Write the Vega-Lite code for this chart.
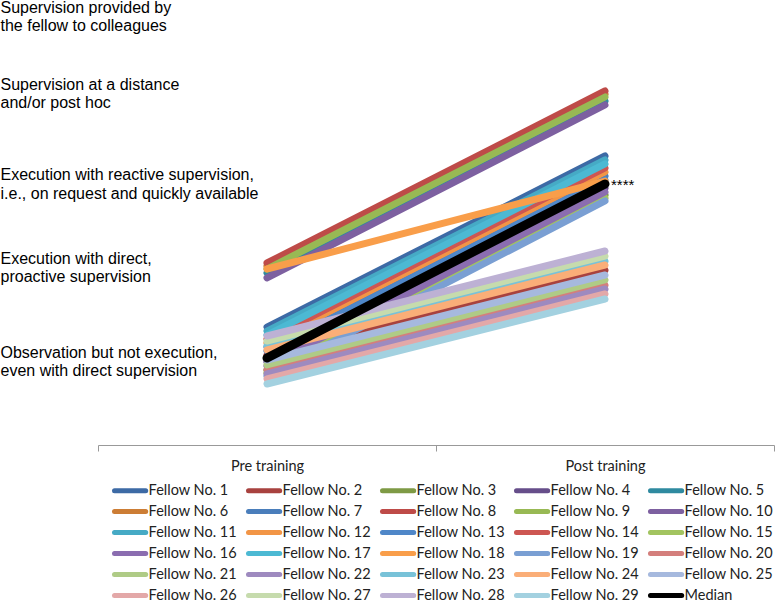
{
  "$schema": "https://vega.github.io/schema/vega-lite/v6.json",
  "width": 676,
  "height": 444,
  "autosize": {"type": "none"},
  "padding": {"left": 98, "top": 1, "right": 4, "bottom": 155},
  "background": "white",
  "config": {"view": {"stroke": null}},
  "datasets": {
    "fellows": [
      {"fellow": "Fellow No. 1", "stage": "Pre training", "level": 1.356}, {"fellow": "Fellow No. 1", "stage": "Post training", "level": 3.322},
      {"fellow": "Fellow No. 2", "stage": "Pre training", "level": 1.034}, {"fellow": "Fellow No. 2", "stage": "Post training", "level": 2.011},
      {"fellow": "Fellow No. 3", "stage": "Pre training", "level": 0.862}, {"fellow": "Fellow No. 3", "stage": "Post training", "level": 2.874},
      {"fellow": "Fellow No. 4", "stage": "Pre training", "level": 0.954}, {"fellow": "Fellow No. 4", "stage": "Post training", "level": 2.954},
      {"fellow": "Fellow No. 5", "stage": "Pre training", "level": 1.977}, {"fellow": "Fellow No. 5", "stage": "Post training", "level": 3.954},
      {"fellow": "Fellow No. 6", "stage": "Pre training", "level": 2.057}, {"fellow": "Fellow No. 6", "stage": "Post training", "level": 4.034},
      {"fellow": "Fellow No. 7", "stage": "Pre training", "level": 1.126}, {"fellow": "Fellow No. 7", "stage": "Post training", "level": 3.092},
      {"fellow": "Fellow No. 8", "stage": "Pre training", "level": 2.092}, {"fellow": "Fellow No. 8", "stage": "Post training", "level": 4.069},
      {"fellow": "Fellow No. 9", "stage": "Pre training", "level": 2.023}, {"fellow": "Fellow No. 9", "stage": "Post training", "level": 4.0},
      {"fellow": "Fellow No. 10", "stage": "Pre training", "level": 1.92}, {"fellow": "Fellow No. 10", "stage": "Post training", "level": 3.908},
      {"fellow": "Fellow No. 11", "stage": "Pre training", "level": 1.31}, {"fellow": "Fellow No. 11", "stage": "Post training", "level": 3.276},
      {"fellow": "Fellow No. 12", "stage": "Pre training", "level": 1.172}, {"fellow": "Fellow No. 12", "stage": "Post training", "level": 3.138},
      {"fellow": "Fellow No. 13", "stage": "Pre training", "level": 1.08}, {"fellow": "Fellow No. 13", "stage": "Post training", "level": 3.046},
      {"fellow": "Fellow No. 14", "stage": "Pre training", "level": 1.218}, {"fellow": "Fellow No. 14", "stage": "Post training", "level": 3.184},
      {"fellow": "Fellow No. 15", "stage": "Pre training", "level": 0.828}, {"fellow": "Fellow No. 15", "stage": "Post training", "level": 2.839},
      {"fellow": "Fellow No. 16", "stage": "Pre training", "level": 0.908}, {"fellow": "Fellow No. 16", "stage": "Post training", "level": 2.908},
      {"fellow": "Fellow No. 17", "stage": "Pre training", "level": 1.264}, {"fellow": "Fellow No. 17", "stage": "Post training", "level": 3.23},
      {"fellow": "Fellow No. 18", "stage": "Pre training", "level": 2.023}, {"fellow": "Fellow No. 18", "stage": "Post training", "level": 3.034},
      {"fellow": "Fellow No. 19", "stage": "Pre training", "level": 0.793}, {"fellow": "Fellow No. 19", "stage": "Post training", "level": 2.805},
      {"fellow": "Fellow No. 20", "stage": "Pre training", "level": 0.862}, {"fellow": "Fellow No. 20", "stage": "Post training", "level": 1.839},
      {"fellow": "Fellow No. 21", "stage": "Pre training", "level": 0.92}, {"fellow": "Fellow No. 21", "stage": "Post training", "level": 1.897},
      {"fellow": "Fellow No. 22", "stage": "Pre training", "level": 0.816}, {"fellow": "Fellow No. 22", "stage": "Post training", "level": 1.793},
      {"fellow": "Fellow No. 23", "stage": "Pre training", "level": 1.138}, {"fellow": "Fellow No. 23", "stage": "Post training", "level": 2.115},
      {"fellow": "Fellow No. 24", "stage": "Pre training", "level": 1.092}, {"fellow": "Fellow No. 24", "stage": "Post training", "level": 2.069},
      {"fellow": "Fellow No. 25", "stage": "Pre training", "level": 0.977}, {"fellow": "Fellow No. 25", "stage": "Post training", "level": 1.954},
      {"fellow": "Fellow No. 26", "stage": "Pre training", "level": 0.759}, {"fellow": "Fellow No. 26", "stage": "Post training", "level": 1.736},
      {"fellow": "Fellow No. 27", "stage": "Pre training", "level": 1.195}, {"fellow": "Fellow No. 27", "stage": "Post training", "level": 2.172},
      {"fellow": "Fellow No. 28", "stage": "Pre training", "level": 1.253}, {"fellow": "Fellow No. 28", "stage": "Post training", "level": 2.23},
      {"fellow": "Fellow No. 29", "stage": "Pre training", "level": 0.701}, {"fellow": "Fellow No. 29", "stage": "Post training", "level": 1.678},
      {"fellow": "Median", "stage": "Pre training", "level": 1.0}, {"fellow": "Median", "stage": "Post training", "level": 3.0}
    ],
    "annot": [{"stage": "Post training", "level": 3.0, "label": "****"}]
  },
  "layer": [
    {
      "data": {"name": "fellows"},
      "mark": {"type": "line", "strokeCap": "round", "strokeJoin": "round"},
      "encoding": {
        "x": {
          "field": "stage", "type": "nominal",
          "scale": {"domain": ["Pre training", "Post training"], "paddingInner": 0, "paddingOuter": 0},
          "axis": {
            "title": null, "labelAngle": 0, "tickBand": "extent", "ticks": true, "tickSize": 6,
            "tickColor": "#999999", "domainColor": "#999999", "grid": false,
            "labelFont": "Lato, sans-serif",
            "labelFontSize": 14.5, "labelColor": "#222222", "labelPadding": 8
          }
        },
        "y": {
          "field": "level", "type": "quantitative",
          "scale": {"domain": [0, 5.1034], "nice": false, "zero": false},
          "axis": {
            "title": null, "grid": false, "domain": false, "ticks": false, "tickSize": 0,
            "values": [0.966, 2.046, 3.011, 4.046, 4.931],
            "labelAlign": "left", "labelBaseline": "middle", "labelPadding": 98, "labelOffset": -8.5,
            "labelFont": "Liberation Sans, Arial, sans-serif", "labelFontSize": 16,
            "labelColor": "#000000", "labelLineHeight": 18.5, "labelLimit": 0,
            "labelExpr": "round(datum.value) == 5 ? ['Supervision provided by', 'the fellow to colleagues'] : round(datum.value) == 4 ? ['Supervision at a distance', 'and/or post hoc'] : round(datum.value) == 3 ? ['Execution with reactive supervision,', 'i.e., on request and quickly available'] : round(datum.value) == 2 ? ['Execution with direct,', 'proactive supervision'] : ['Observation but not execution,', 'even with direct supervision']"
          }
        },
        "color": {
          "field": "fellow", "type": "nominal", "sort": null,
          "scale": {
            "domain": ["Fellow No. 1", "Fellow No. 2", "Fellow No. 3", "Fellow No. 4", "Fellow No. 5", "Fellow No. 6", "Fellow No. 7", "Fellow No. 8", "Fellow No. 9", "Fellow No. 10", "Fellow No. 11", "Fellow No. 12", "Fellow No. 13", "Fellow No. 14", "Fellow No. 15", "Fellow No. 16", "Fellow No. 17", "Fellow No. 18", "Fellow No. 19", "Fellow No. 20", "Fellow No. 21", "Fellow No. 22", "Fellow No. 23", "Fellow No. 24", "Fellow No. 25", "Fellow No. 26", "Fellow No. 27", "Fellow No. 28", "Fellow No. 29", "Median"],
            "range": ["#3D6AA5", "#A8423F", "#7E9A45", "#664E8A", "#2F8AA0", "#CC7D35", "#4A7EBB", "#BE4B48", "#98B954", "#7D60A0", "#46AAC5", "#F29546", "#4F87C8", "#CD5652", "#A2C460", "#8B6DB0", "#4CB9D3", "#F99E4A", "#7A9FD3", "#D47F7C", "#AFCB86", "#9E8ABF", "#78C2D8", "#FAAE78", "#A6B9DE", "#E3A8A8", "#C6DBAD", "#BDB1D4", "#A3D1E0", "#000000"]
          },
          "legend": {
            "title": null, "orient": "none", "legendX": 14, "legendY": 481, "direction": "horizontal",
            "columns": 5, "symbolType": "M-2.6,0H2.6", "symbolSize": 144, "symbolStrokeWidth": 5, "symbolOffset": 9.6,
            "labelFont": "Lato, sans-serif", "labelFontSize": 14.5,
            "labelColor": "#222222", "labelOffset": 10, "columnPadding": 1, "rowPadding": 0, "padding": 0,
            "labelLimit": 0,
            "encode": {"symbols": {"update": {"strokeCap": {"value": "round"}}}}
          }
        },
        "strokeWidth": {"condition": {"test": "datum.fellow === 'Median'", "value": 9}, "value": 7}
      }
    },
    {
      "data": {"name": "annot"},
      "mark": {"type": "text", "align": "left", "baseline": "middle", "dx": 6, "dy": 1, "fontSize": 15, "font": "Liberation Sans, Arial, sans-serif", "color": "#000000"},
      "encoding": {
        "x": {"field": "stage", "type": "nominal"},
        "y": {"field": "level", "type": "quantitative"},
        "text": {"field": "label"}
      }
    }
  ]
}
